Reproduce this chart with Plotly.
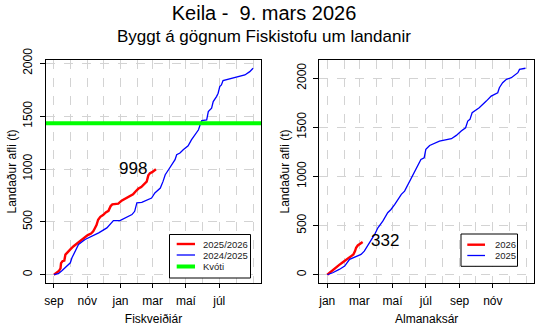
import plotly.graph_objects as go
import pandas as pd

# ---------------- data ----------------
# Fishing year panel: x = days since 1 September, y = cumulative landings (t)
fy_cur_name = "2025/2026"
fy_cur_day = [0, 5, 9, 12, 13, 16, 19, 21, 25, 30, 36, 42, 50, 57, 62, 68, 72, 75, 78, 81,
              85, 90, 95, 100, 104, 107, 112, 118, 124, 130, 137, 145, 150, 155, 160, 165,
              170, 173, 176, 180, 184, 187]
fy_cur_val = [0, 15, 35, 60, 110, 130, 135, 190, 215, 240, 270, 295, 325, 355, 375, 390, 410,
              440, 470, 520, 548, 565, 590, 605, 650, 665, 668, 672, 700, 715, 740, 760, 790,
              815, 830, 860, 880, 940, 960, 970, 985, 998]

fy_prev_name = "2024/2025"
fy_prev_day = [0, 8, 15, 21, 30, 33, 36, 42, 45, 57, 70, 82, 97, 106, 109, 121, 131, 143, 148,
               152, 161, 170, 179, 185, 195, 200, 204, 210, 216, 222, 225, 231, 237, 246, 252,
               258, 265, 268, 271, 280, 283, 289, 292, 298, 301, 304, 307, 310, 320, 335, 350,
               359, 365]
fy_prev_val = [0, 10, 40, 66, 113, 160, 191, 255, 286, 333, 364, 396, 443, 490, 512, 512, 537,
               569, 600, 679, 685, 704, 726, 774, 820, 883, 946, 993, 1040, 1088, 1135, 1151,
               1182, 1220, 1276, 1324, 1371, 1418, 1458, 1465, 1543, 1575, 1638, 1685, 1717,
               1779, 1795, 1836, 1849, 1874, 1890, 1921, 1953]

quota_name = "Kvóti"
quota = 1434

# Calendar year panel: x = days since 1 January
cal_cur_name = "2026"
cal_cur_day = [0, 5, 10, 16, 22, 28, 35, 40, 44, 48, 51, 53, 56, 59, 62, 65]
cal_cur_val = [0, 25, 50, 75, 100, 125, 155, 175, 190, 205, 240, 275, 298, 310, 320, 332]

cal_prev_name = "2025"
cal_prev_day = [0, 10, 22, 32, 41, 53, 62, 68, 74, 81, 87, 93, 102, 111, 117, 124, 130, 136,
                142, 148, 154, 160, 163, 166, 172, 178, 181, 188, 206, 228, 237, 246, 254,
                258, 262, 266, 279, 292, 301, 313, 316, 322, 329, 338, 350, 353, 362, 364]
cal_prev_val = [0, 20, 54, 88, 156, 183, 207, 240, 291, 359, 410, 478, 545, 631, 664, 715,
                766, 817, 850, 918, 969, 1038, 1071, 1122, 1173, 1190, 1275, 1315, 1359, 1383,
                1417, 1461, 1495, 1563, 1580, 1648, 1699, 1766, 1817, 1851, 1902, 1953, 1987,
                2004, 2055, 2088, 2099, 2100]

fy_months = ["sep", "okt", "nóv", "des", "jan", "feb", "mar", "apr", "maí", "jún", "júl", "ágú"]
cal_months = ["jan", "feb", "mar", "apr", "maí", "jún", "júl", "ágú", "sep", "okt", "nóv", "des"]

title_text = "Keila -  9. mars 2026"
subtitle_text = "Byggt á gögnum Fiskistofu um landanir"
ytitle = "Landaður afli (t)"
fy_xtitle = "Fiskveiðiár"
cal_xtitle = "Almanaksár"

# ---------------- helpers ----------------
FONT = "Liberation Sans, Arial, Helvetica, sans-serif"
RED, BLUE, GREEN = "#FF0000", "#0000FF", "#00FF00"
GRID = "#D3D3D3"
W_CUR, W_PREV, W_QUOTA = 2.4, 1.3, 4


def month_days(start):
    ms = pd.date_range(start, periods=13, freq="MS")
    return [(d - ms[0]).days for d in ms]


fy_md = month_days("2025-09-01")
cal_md = month_days("2025-01-01")
year_len = 365
xr = [-0.04 * year_len, year_len * 1.04]


def yrange(*series):
    m = max(max(s) for s in series)
    return [-0.04 * m, m * 1.04]


fy_yr = yrange(fy_cur_val, fy_prev_val)
cal_yr = yrange(cal_cur_val, cal_prev_val)

fig = go.Figure()

# left panel
fig.add_trace(go.Scatter(x=fy_cur_day, y=fy_cur_val, mode="lines", name=fy_cur_name,
                         line=dict(color=RED, width=W_CUR), xaxis="x", yaxis="y"))
fig.add_trace(go.Scatter(x=fy_prev_day, y=fy_prev_val, mode="lines", name=fy_prev_name,
                         line=dict(color=BLUE, width=W_PREV), xaxis="x", yaxis="y"))
fig.add_trace(go.Scatter(x=xr, y=[quota, quota], mode="lines", name=quota_name,
                         line=dict(color=GREEN, width=W_QUOTA), xaxis="x", yaxis="y"))

# right panel
fig.add_trace(go.Scatter(x=cal_cur_day, y=cal_cur_val, mode="lines", name=cal_cur_name,
                         line=dict(color=RED, width=W_CUR), xaxis="x2", yaxis="y2"))
fig.add_trace(go.Scatter(x=cal_prev_day, y=cal_prev_val, mode="lines", name=cal_prev_name,
                         line=dict(color=BLUE, width=W_PREV), xaxis="x2", yaxis="y2"))


def xaxis(domain, md, labels, title, anchor):
    return dict(
        domain=domain, anchor=anchor, range=xr,
        tickmode="array", tickvals=md[0:12:2], ticktext=labels[0:12:2],
        ticks="outside", ticklen=4, tickcolor="black", tickwidth=1,
        ticklabelstandoff=3,
        showgrid=True, gridcolor=GRID, griddash="dash", gridwidth=1,
        minor=dict(tickmode="array", tickvals=md, showgrid=True, gridcolor=GRID,
                   griddash="dash", gridwidth=1, ticks=""),
        showline=True, mirror=True, linecolor="black", linewidth=1,
        zeroline=False,
        tickfont=dict(size=12, color="black", family=FONT),
        title=dict(text=title, font=dict(size=12, color="black", family=FONT), standoff=7),
    )


def yaxis(domain, rng, anchor):
    return dict(
        domain=domain, anchor=anchor, range=rng,
        tickmode="linear", tick0=0, dtick=500,
        ticks="outside", ticklen=5, tickcolor="black", tickwidth=1,
        tickangle=-90, ticklabelstandoff=3,
        showgrid=True, gridcolor=GRID, griddash="dash", gridwidth=1,
        showline=True, mirror=True, linecolor="black", linewidth=1,
        zeroline=False,
        tickfont=dict(size=12, color="black", family=FONT),
        title=dict(text=ytitle, font=dict(size=12, color="black", family=FONT), standoff=2),
    )


W, H = 555, 333
ml, mr, mt, mb = 46, 21, 60, 50
pw, ph = W - ml - mr, H - mt - mb


def px_x(p):
    return (p - ml) / pw


def px_y(p):
    return (H - mb - p) / ph


annotations = [
    dict(text=subtitle_text, xref="paper", yref="paper",
         x=px_x(264), y=px_y(37), xanchor="center", yanchor="middle",
         showarrow=False, font=dict(size=17, color="black", family=FONT)),
    # end-of-series value labels
    dict(text=str(fy_cur_val[-1]), xref="x", yref="y", x=fy_cur_day[-1], y=fy_cur_val[-1],
         xanchor="right", yanchor="middle", xshift=-7, yshift=1, showarrow=False,
         font=dict(size=17, color="black", family=FONT)),
    dict(text=str(cal_cur_val[-1]), xref="x2", yref="y2", x=cal_cur_day[-1], y=cal_cur_val[-1],
         xanchor="left", yanchor="middle", xshift=6, yshift=2, showarrow=False,
         font=dict(size=17, color="black", family=FONT)),
]
shapes = []


def add_legend(box, rows, items):
    """R-style boxed legend drawn in paper coordinates."""
    x0, x1, y0, y1 = box
    shapes.append(dict(type="rect", xref="paper", yref="paper",
                       x0=px_x(x0), x1=px_x(x1), y0=px_y(y1), y1=px_y(y0),
                       fillcolor="white", line=dict(color="black", width=1), layer="above"))
    lx0, lx1, tx = rows
    for (name, color, width), ry in items:
        shapes.append(dict(type="line", xref="paper", yref="paper",
                           x0=px_x(lx0), x1=px_x(lx1), y0=px_y(ry), y1=px_y(ry),
                           line=dict(color=color, width=width), layer="above"))
        annotations.append(dict(text=name, xref="paper", yref="paper", x=px_x(tx),
                                y=px_y(ry), xanchor="left", yanchor="middle",
                                showarrow=False,
                                font=dict(size=9.5, color="#222222", family=FONT)))


add_legend((169.5, 250.5, 234.5, 278),
           (176.7, 195, 201),
           [((fy_cur_name, RED, W_CUR), 244),
            ((fy_prev_name, BLUE, W_PREV), 255),
            ((quota_name, GREEN, W_QUOTA), 266.5)])
add_legend((461, 517.5, 234, 266.3),
           (467.3, 485, 493),
           [((cal_cur_name, RED, W_CUR), 244.7),
            ((cal_prev_name, BLUE, W_PREV), 255.5)])

fig.update_layout(
    width=W, height=H,
    margin=dict(l=ml, r=mr, t=mt, b=mb, autoexpand=False),
    paper_bgcolor="white", plot_bgcolor="white",
    font=dict(family=FONT, color="black"),
    xaxis=xaxis([0, px_x(261)], fy_md, fy_months, fy_xtitle, "y"),
    yaxis=yaxis([0, 1], fy_yr, "x"),
    xaxis2=xaxis([px_x(319.3), 1], cal_md, cal_months, cal_xtitle, "y2"),
    yaxis2=yaxis([0, 1], cal_yr, "x2"),
    title=dict(text=title_text, x=264 / W, xanchor="center", xref="container",
               y=1 - 13 / H, yanchor="middle", yref="container",
               font=dict(size=20, color="black", family=FONT)),
    annotations=annotations,
    shapes=shapes,
    showlegend=False,
)

fig.write_html("out.html")
